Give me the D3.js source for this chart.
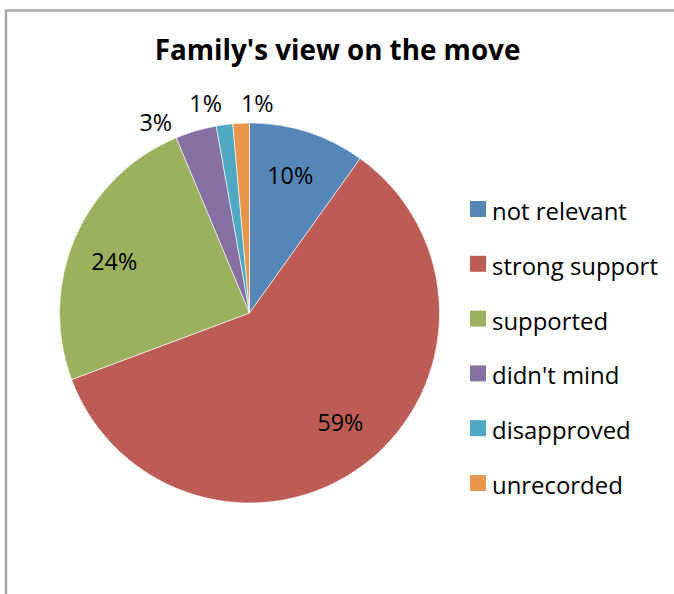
<!DOCTYPE html>
<html><head><meta charset="utf-8">
<script src="https://cdn.jsdelivr.net/npm/d3@7"></script>
<style>body{margin:0;background:#fff}svg{display:block}</style>
</head><body>
<svg id="c" width="674" height="594"></svg>
<script>
const categories = ["not relevant","strong support","supported","didn't mind","disapproved","unrecorded"];
const values = [9.9, 59.4, 24.4, 3.5, 1.4, 1.4];
const labels = ["10%","59%","24%","3%","1%","1%"];
const colors = ["#5586b8","#bc5c55","#9cb160","#8670a1","#4fa8c1","#e8964e"];
const title = "Family's view on the move";

const FONT = "'Open Sans', 'Noto Sans', sans-serif";
const svg = d3.select("#c");
const W = 674, H = 594;

// frame
svg.append("rect").attr("x",6).attr("y",10.5).attr("width",W+10).attr("height",H+10)
  .attr("fill","#fff").attr("stroke","#a6a6a6").attr("stroke-width",2.5);

function fit(sel, target){
  const base = 100; sel.attr("font-size", base);
  const w = sel.node().getComputedTextLength();
  sel.attr("font-size", base*target/w);
  return base*target/w;
}

// title
const t = svg.append("text").attr("x",337.5).attr("y",60).attr("text-anchor","middle")
  .attr("font-family",FONT).attr("font-weight","bold").attr("fill","#000").text(title);
fit(t, 366);

const cx = 249.5, cy = 313, r = 190;
const g = svg.append("g").attr("transform",`translate(${cx},${cy})`);
const pie = d3.pie().sort(null).value(d=>d.v);
const data = pie(categories.map((c,i)=>({c, v:values[i], lab:labels[i], col:colors[i]})));
const arc = d3.arc().innerRadius(0).outerRadius(r);
g.selectAll("path").data(data).join("path").attr("d",arc)
  .attr("fill",d=>d.data.col).attr("stroke","#fff").attr("stroke-width",0.6);

// labels
const inner = d3.arc().innerRadius(143).outerRadius(143);
const outer = d3.arc().innerRadius(212).outerRadius(212);
const nudge = [[-3,-1],[4,-4],[-4,5],[-34,13],[-16,1],[17,2]];
const labs = g.selectAll("text.lab").data(data).join("text").attr("class","lab")
  .attr("text-anchor","middle").attr("font-family",FONT).attr("fill","#000")
  .text(d=>d.data.lab);
const labFs = fit(d3.select(labs.nodes()[0]), 46);
const pos = d => (d.endAngle-d.startAngle) > 0.5 ? inner.centroid(d) : outer.centroid(d);
labs.attr("font-size", labFs)
  .attr("x",(d,i)=>pos(d)[0]+nudge[i][0])
  .attr("y",(d,i)=>pos(d)[1]+nudge[i][1]+8.5);

// legend
const leg = svg.append("g");
const rows = leg.selectAll("g").data(categories).join("g")
  .attr("transform",(d,i)=>`translate(470,${201 + i*54.8})`);
rows.append("rect").attr("width",16).attr("height",16).attr("fill",(d,i)=>colors[i]);
const lt = rows.append("text").attr("x",22).attr("y",19).attr("font-family",FONT).attr("fill","#000").text(d=>d);
const lfs = fit(d3.select(lt.nodes()[1]), 166);
lt.attr("font-size", lfs);
</script>
</body></html>
